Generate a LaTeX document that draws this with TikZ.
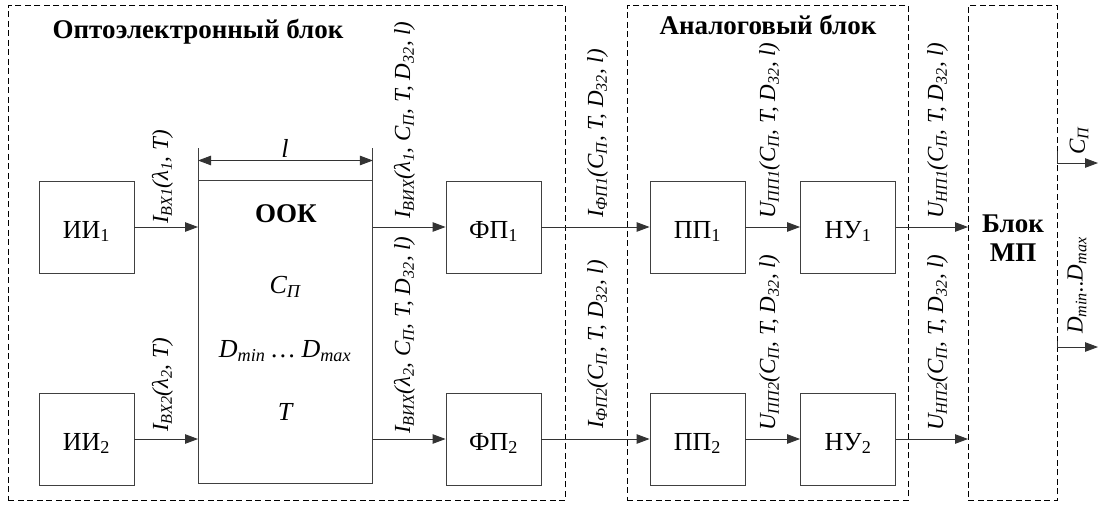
\documentclass[tikz,border=0pt]{standalone}
\usepackage{fontspec}
\setmainfont{Liberation Serif}
\newfontfamily\tnr{Liberation Serif}
\usetikzlibrary{arrows.meta}
\begin{document}
\begin{tikzpicture}[x=1pt,y=-1pt,
  blk/.style={draw=black!75, line width=0.9pt, minimum width=95pt, minimum height=92pt, inner sep=0pt, text height=22pt, text depth=0pt, font=\tnr\fontsize{26}{30}\selectfont},
  grp/.style={draw=black, dash pattern=on 6pt off 3.5pt, line width=0.8pt, inner sep=0pt, anchor=north west, minimum height=495pt},
  arr/.style={line width=0.9pt, draw=black!80, -{Triangle[length=13pt,width=9.5pt]}},
  dimarr/.style={line width=0.9pt, draw=black!80, {Triangle[length=13pt,width=9.5pt]}-{Triangle[length=13pt,width=9.5pt]}},
  ext/.style={line width=0.9pt, draw=black!75},
  lbl/.style={rotate=90, anchor=west, inner sep=0pt, font=\tnr\fontsize{23}{27}\selectfont\itshape},
  txt/.style={inner sep=0pt, font=\tnr\fontsize{26}{30}\selectfont\itshape},
  ttl/.style={inner sep=0pt, font=\tnr\fontsize{27}{29}\selectfont\bfseries},
]
\useasboundingbox (0,0) rectangle (1099,504);
% groups
\node[grp, minimum width=557pt] (opto) at (8,5) {};
\node[grp, minimum width=281pt] (analog) at (627,5) {};
\node[grp, minimum width=89pt] (mp) at (968,5) {};
\node[ttl] (t1) at (198,32) {Оптоэлектронный блок};
\node[ttl] (t2) at (768,25) {Аналоговый блок};
\node[ttl, align=center] (mpt) at (1013,238) {Блок\\МП};
% blocks
\node[blk] (ii1) at (86.5,227) {ИИ\textsubscript{1}};
\node[blk] (ii2) at (86.5,439) {ИИ\textsubscript{2}};
\node[draw=black!75, line width=0.9pt, minimum width=174pt, minimum height=303pt, anchor=north west, inner sep=0pt] (ook) at (198,180) {};
\node[blk] (fp1) at (493.5,227) {ФП\textsubscript{1}};
\node[blk] (fp2) at (493.5,439) {ФП\textsubscript{2}};
\node[blk] (pp1) at (697.5,227) {ПП\textsubscript{1}};
\node[blk] (pp2) at (697.5,439) {ПП\textsubscript{2}};
\node[blk] (nu1) at (848,227) {НУ\textsubscript{1}};
\node[blk] (nu2) at (848,439) {НУ\textsubscript{2}};
% OOK contents
\node[ttl] (ookt) at (286,214) {ООК};
\node[txt] (ookc) at (285,287) {C\textsubscript{П}};
\node[txt] (ookd) at (285,351) {D\textsubscript{min} … D\textsubscript{max}};
\node[txt] (ookT) at (285,411.5) {T};
% dimension
\draw[ext] (ook.north west) -- ([yshift=32pt]ook.north west);
\draw[ext] (ook.north east) -- ([yshift=32pt]ook.north east);
\coordinate (dl) at ([yshift=19.5pt]ook.north west);
\coordinate (dr) at ([yshift=19.5pt]ook.north east);
\draw[dimarr] (dl) -- (dr);
\node[txt] (llab) at (285,148) {l};
% arrows
\draw[arr] (ii1.east) -- (ii1.east -| ook.west);
\draw[arr] (ii2.east) -- (ii2.east -| ook.west);
\draw[arr] (fp1.west -| ook.east) -- (fp1.west);
\draw[arr] (fp2.west -| ook.east) -- (fp2.west);
\draw[arr] (fp1.east) -- (pp1.west);
\draw[arr] (fp2.east) -- (pp2.west);
\draw[arr] (pp1.east) -- (nu1.west);
\draw[arr] (pp2.east) -- (nu2.west);
\draw[arr] (nu1.east) -- (nu1.east -| mp.west);
\draw[arr] (nu2.east) -- (nu2.east -| mp.west);
% outputs
\coordinate (cp0) at (1057,151);
\coordinate (cp1) at (1098,163);
\coordinate (dm0) at (1057,341);
\coordinate (dm1) at (1098,347);
\draw[arr] (cp0) |- (cp1);
\draw[arr] (dm0) |- (dm1);
% labels
\node[lbl] (l1) at (162.5,224) {I\textsubscript{ВХ1}(λ\textsubscript{1}, T)};
\node[lbl] (l2) at (162.5,432) {I\textsubscript{ВХ2}(λ\textsubscript{2}, T)};
\node[lbl] (l3) at (404.5,219) {I\textsubscript{ВИХ}(λ\textsubscript{1}, C\textsubscript{П}, T, D\textsubscript{32}, l)};
\node[lbl] (l4) at (404.5,434) {I\textsubscript{ВИХ}(λ\textsubscript{2}, C\textsubscript{П}, T, D\textsubscript{32}, l)};
\node[lbl] (l5) at (597.5,218) {I\textsubscript{ФП1}(C\textsubscript{П}, T, D\textsubscript{32}, l)};
\node[lbl] (l6) at (597.5,429) {I\textsubscript{ФП2}(C\textsubscript{П}, T, D\textsubscript{32}, l)};
\node[lbl] (l7) at (769.5,219) {U\textsubscript{ПП1}(C\textsubscript{П}, T, D\textsubscript{32}, l)};
\node[lbl] (l8) at (769.5,431) {U\textsubscript{ПП2}(C\textsubscript{П}, T, D\textsubscript{32}, l)};
\node[lbl] (l9) at (937.5,219) {U\textsubscript{НП1}(C\textsubscript{П}, T, D\textsubscript{32}, l)};
\node[lbl] (l10) at (937.5,431) {U\textsubscript{НП2}(C\textsubscript{П}, T, D\textsubscript{32}, l)};
\node[lbl] (lc) at (1079,155) {C\textsubscript{П}};
\node[lbl] (ld) at (1077,334) {D\textsubscript{min}..D\textsubscript{max}};
\end{tikzpicture}
\end{document}
